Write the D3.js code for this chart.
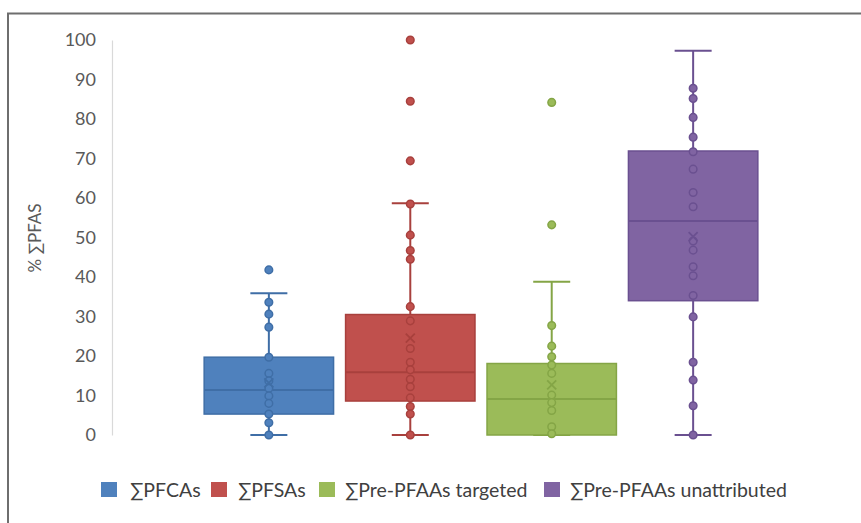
<!DOCTYPE html>
<html><head><meta charset="utf-8">
<script src="https://cdn.jsdelivr.net/npm/d3@7"></script>
<style>html,body{margin:0;padding:0;background:#fff;} svg{display:block;}</style>
</head><body>
<svg id="chart" width="861" height="523"></svg>
<script>
// ---- data ----
const categories = ["∑PFCAs", "∑PFSAs", "∑Pre-PFAAs targeted", "∑Pre-PFAAs unattributed"];
const colors = ["#4F81BD", "#C0504D", "#9BBB59", "#8064A2"];
const strokeColors = ["#3F6EA6", "#A8403D", "#84A546", "#6A5090"];
const q1 = [5.3, 8.6, 0, 34.0];
const median = [11.4, 15.9, 9.1, 54.2];
const q3 = [19.7, 30.5, 18.1, 71.9];
const whiskerLow = [0, 0, 0, 0];
const whiskerHigh = [35.9, 58.7, 38.8, 97.3];
const means = [13.2, 24.5, 12.7, 50.2];
const pointsPFCA = [41.8, 33.6, 30.6, 27.3, 19.7, 15.6, 13.7, 11.8, 9.9, 8.0, 5.3, 3.1, 0];
const pointsPFSA = [100, 84.5, 69.4, 58.5, 50.6, 46.7, 44.5, 32.5, 28.9, 21.9, 18.4, 16.5, 14.1, 12.2, 9.4, 7.2, 5.3, 0];
const pointsTargeted = [84.2, 53.2, 27.7, 22.5, 19.8, 17.7, 15.6, 10.1, 8.2, 6.2, 2.1, 0.3];
const pointsUnattributed = [87.8, 85.2, 80.4, 75.4, 71.7, 67.3, 61.4, 57.8, 49.1, 46.8, 42.6, 40.3, 35.3, 29.9, 18.4, 13.9, 7.4, 0];
const yTicks = [0, 10, 20, 30, 40, 50, 60, 70, 80, 90, 100];
const yTitle = "% ∑PFAS";

const pointSets = [pointsPFCA, pointsPFSA, pointsTargeted, pointsUnattributed];

const svg = d3.select("#chart");
const FONT = "Lato, 'Open Sans', sans-serif";

// frame (top and left edges visible)
svg.append("path").attr("d", "M8,523 L8,13.5 L861,13.5").attr("fill", "none")
  .attr("stroke", "#6e6e6e").attr("stroke-width", 2);

const y = d3.scaleLinear().domain([0, 100]).range([435, 40]);
const x = d3.scaleBand().domain(categories).range([198.5, 763.5]).paddingInner(0.085).paddingOuter(0.04);

// y axis
const yAxis = d3.axisLeft(y).tickValues(yTicks).tickSize(0).tickPadding(16);
const gy = svg.append("g").attr("transform", "translate(112,0)").call(yAxis);
gy.select(".domain").attr("stroke", "#d9d9d9").attr("stroke-width", 1.2);
gy.selectAll("text").attr("font-family", FONT).attr("font-size", 18).attr("fill", "#595959");

svg.append("text").attr("transform", "translate(41,238) rotate(-90)")
  .attr("text-anchor", "middle").attr("font-family", FONT).attr("font-size", 17)
  .attr("fill", "#595959").text(yTitle);

const capW = 37;
categories.forEach((c, i) => {
  const g = svg.append("g");
  const cx = x(c) + x.bandwidth() / 2;
  const col = colors[i], sc = strokeColors[i];
  // whiskers
  g.append("line").attr("x1", cx).attr("x2", cx).attr("y1", y(q3[i])).attr("y2", y(whiskerHigh[i]))
    .attr("stroke", sc).attr("stroke-width", 2);
  g.append("line").attr("x1", cx).attr("x2", cx).attr("y1", y(q1[i])).attr("y2", y(whiskerLow[i]))
    .attr("stroke", sc).attr("stroke-width", 2);
  [whiskerHigh[i], whiskerLow[i]].forEach(v => {
    g.append("line").attr("x1", cx - capW / 2).attr("x2", cx + capW / 2).attr("y1", y(v)).attr("y2", y(v))
      .attr("stroke", sc).attr("stroke-width", 2);
  });
  // box
  g.append("rect").attr("x", x(c)).attr("width", x.bandwidth())
    .attr("y", y(q3[i])).attr("height", y(q1[i]) - y(q3[i]))
    .attr("fill", col).attr("stroke", sc).attr("stroke-width", 1.5);
  g.append("line").attr("x1", x(c)).attr("x2", x(c) + x.bandwidth())
    .attr("y1", y(median[i])).attr("y2", y(median[i])).attr("stroke", sc).attr("stroke-width", 2);
  // points
  g.selectAll("circle").data(pointSets[i]).join("circle")
    .attr("cx", cx).attr("cy", d => y(d)).attr("r", 3.8)
    .attr("fill", col).attr("stroke", sc).attr("stroke-width", 1.5);
  // mean marker
  const my = y(means[i]), s = 4.5;
  g.append("path").attr("d", `M${cx - s},${my - s}L${cx + s},${my + s}M${cx - s},${my + s}L${cx + s},${my - s}`)
    .attr("stroke", sc).attr("stroke-width", 1.8).attr("fill", "none");
});

// legend
const legendX = [101, 211, 319, 544];
const legendTextX = [130, 238, 345, 570];
const legend = svg.append("g");
categories.forEach((c, i) => {
  legend.append("rect").attr("x", legendX[i]).attr("y", 482).attr("width", 16).attr("height", 15)
    .attr("fill", colors[i]);
  legend.append("text").attr("x", legendTextX[i]).attr("y", 496.5)
    .attr("font-family", FONT).attr("font-size", 19.5).attr("fill", "#404040").text(c);
});
</script>
</body></html>
